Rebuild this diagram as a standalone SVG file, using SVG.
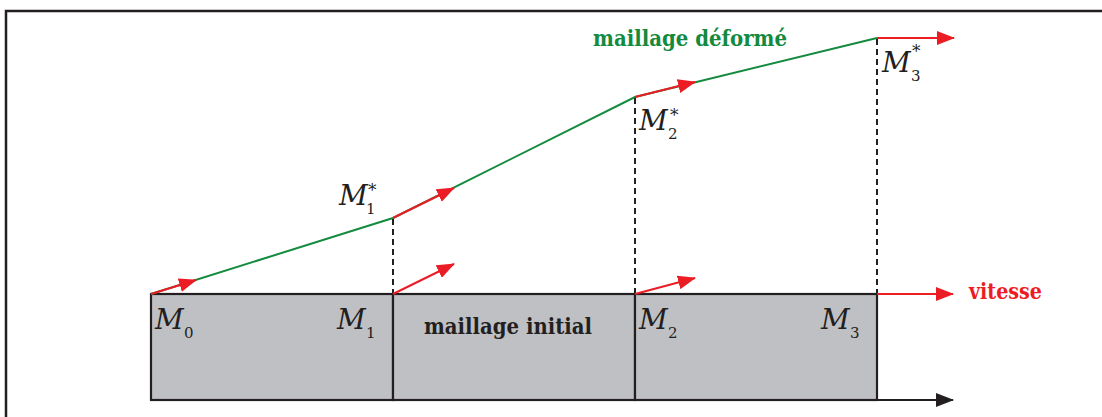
<svg xmlns="http://www.w3.org/2000/svg" width="1102" height="417" viewBox="0 0 1102 417">
<style>
.frame{fill:none;stroke:#231f20;stroke-width:2.5}
.cell{fill:#bfc0c4;stroke:#231f20;stroke-width:2.2}
.green{fill:none;stroke:#138a3e;stroke-width:2}
.red{fill:none;stroke:#ec1c24;stroke-width:2}
.dash{fill:none;stroke:#231f20;stroke-width:2;stroke-dasharray:6 4}
.axis{fill:none;stroke:#231f20;stroke-width:2.2}
</style>
<defs>
<marker id="ar" markerUnits="userSpaceOnUse" markerWidth="18" markerHeight="14" refX="17" refY="7" orient="auto">
<path d="M0,0 L18,7 L0,14 Z" fill="#ec1c24"/>
</marker>
<marker id="ak" markerUnits="userSpaceOnUse" markerWidth="18" markerHeight="14" refX="17" refY="7" orient="auto">
<path d="M0,0 L18,7 L0,14 Z" fill="#231f20"/>
</marker>
</defs>
<rect class="frame" x="6" y="11" width="1200" height="500"/>
<g id="cell0"><rect class="cell" x="151" y="294" width="242" height="106"/></g>
<g id="cell1"><rect class="cell" x="393" y="294" width="242" height="106"/></g>
<g id="cell2"><rect class="cell" x="635" y="294" width="242" height="106"/></g>
<g id="connectors">
<polyline class="green" points="151,294 393,218 635,97 877,38"/>
<line class="dash" x1="393" y1="219" x2="393" y2="294"/>
<line class="dash" x1="635" y1="98" x2="635" y2="294"/>
<line class="dash" x1="877" y1="39" x2="877" y2="294"/>
<line class="axis" x1="877" y1="400" x2="953" y2="400" marker-end="url(#ak)"/>
<line class="red" x1="151" y1="294" x2="196" y2="280" marker-end="url(#ar)"/>
<line class="red" x1="393" y1="218" x2="454" y2="188" marker-end="url(#ar)"/>
<line class="red" x1="635" y1="97" x2="695" y2="82" marker-end="url(#ar)"/>
<line class="red" x1="877" y1="38" x2="954" y2="38" marker-end="url(#ar)"/>
<line class="red" x1="393" y1="294" x2="454" y2="264" marker-end="url(#ar)"/>
<line class="red" x1="635" y1="294" x2="695" y2="278" marker-end="url(#ar)"/>
<line class="red" x1="877" y1="294" x2="953" y2="294" marker-end="url(#ar)"/>
</g>
<g id="labels" font-family="DejaVu Serif, serif" fill="#231f20">
<g font-style="italic" font-size="28">
<text x="155" y="329">M<tspan font-style="normal" font-size="15" x="184" y="338">0</tspan></text>
<text x="337" y="329">M<tspan font-style="normal" font-size="15" x="366" y="338">1</tspan></text>
<text x="639" y="329">M<tspan font-style="normal" font-size="15" x="668" y="338">2</tspan></text>
<text x="821" y="329">M<tspan font-style="normal" font-size="15" x="850" y="338">3</tspan></text>
<text x="339" y="205">M<tspan font-style="normal" font-size="15" x="366" y="214">1</tspan><tspan font-style="normal" font-size="17" x="368" y="196">*</tspan></text>
<text x="639" y="130">M<tspan font-style="normal" font-size="15" x="668" y="139">2</tspan><tspan font-style="normal" font-size="17" x="670" y="121">*</tspan></text>
<text x="882" y="72">M<tspan font-style="normal" font-size="15" x="911" y="81">3</tspan><tspan font-style="normal" font-size="17" x="912" y="57">*</tspan></text>
</g>
<g font-weight="bold" font-size="23">
<text x="424" y="334" textLength="168" lengthAdjust="spacingAndGlyphs">maillage initial</text>
<text x="593" y="46" fill="#138a3e" textLength="194" lengthAdjust="spacingAndGlyphs">maillage déformé</text>
<text x="969" y="299" fill="#ec1c24" textLength="73" lengthAdjust="spacingAndGlyphs">vitesse</text>
</g>
</g>
</svg>
